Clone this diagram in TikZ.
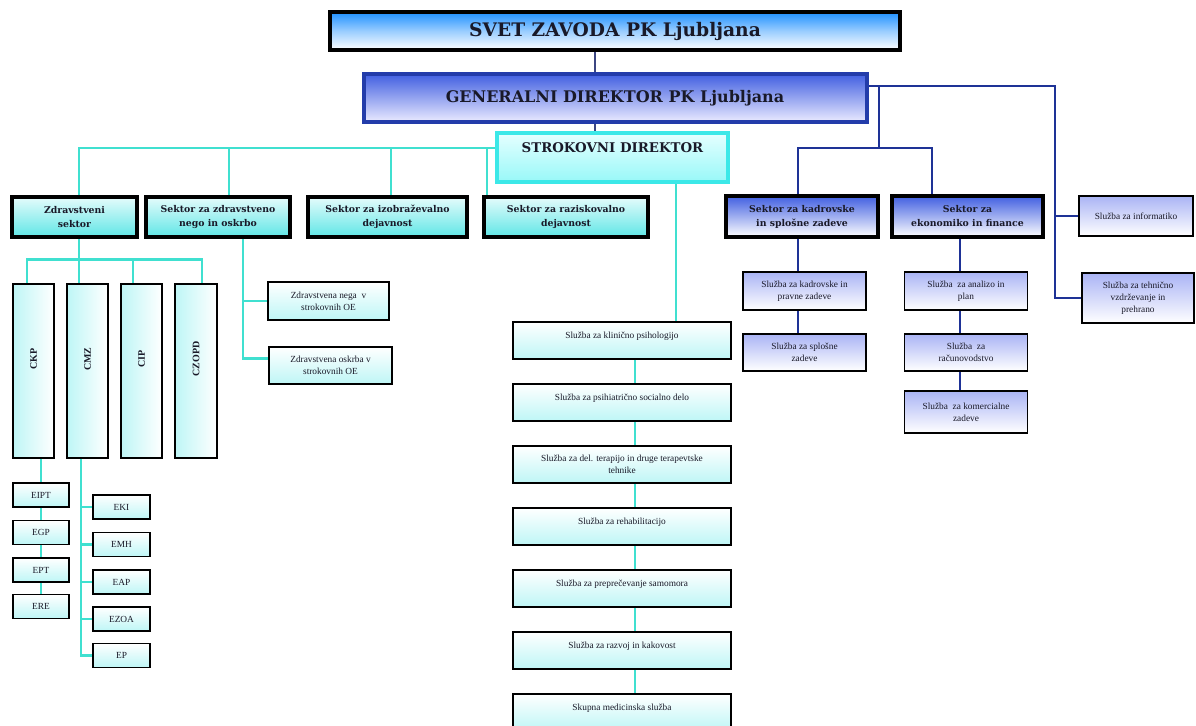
\documentclass[tikz,border=0pt]{standalone}
\usepackage{fontspec}
\setmainfont{Liberation Serif}
\newfontfamily\headfont{DejaVu Serif}
\usetikzlibrary{positioning,calc}

\definecolor{lineblue}{RGB}{30,50,150}
\definecolor{greyblue}{RGB}{60,70,130}
\definecolor{turq}{RGB}{64,224,208}
\definecolor{strcyan}{RGB}{60,232,232}
\definecolor{topblue}{RGB}{30,144,255}
\definecolor{royal}{RGB}{65,95,225}
\definecolor{genborder}{RGB}{35,60,170}
\definecolor{lav}{RGB}{170,180,245}
\definecolor{lcyan}{RGB}{190,246,246}
\definecolor{mcyan}{RGB}{95,230,230}
\definecolor{txt}{RGB}{25,25,40}

\tikzset{
  boxsize/.style 2 args={minimum width=#1*0.75pt, minimum height=#2*0.75pt},
  box/.style={draw=black, line width=1.3pt, text=txt, align=center, inner sep=0pt,
    font=\fontsize{7}{9}\selectfont},
  cyanbox/.style={box, top color=white, bottom color=lcyan},
  lavbox/.style={box, top color=lav, bottom color=white},
  tallbox/.style={box, left color=lcyan, right color=white},
  midbox/.style={cyanbox, text height=12pt, text depth=15.75pt},
  secbox/.style={box, line width=3.6pt, font=\headfont\bfseries\fontsize{7}{10.5}\selectfont},
  cyansec/.style={secbox, top color=lcyan!40, bottom color=mcyan},
  bluesec/.style={secbox, top color=royal, bottom color=white},
  cyanline/.style={draw=turq, line width=2.1pt},
  blueline/.style={draw=lineblue, line width=2.2pt},
  thinblue/.style={draw=greyblue, line width=1.4pt}
}

\begin{document}
\begin{tikzpicture}[x=0.75pt, y=-0.75pt]
\useasboundingbox (0,0) rectangle (1196,725);
\clip (0,0) rectangle (1196,725);
\fill[white] (0,0) rectangle (1196,725);

% top of the chart
\node[box, line width=3pt, top color=topblue, bottom color=white, middle color=topblue!45!white, boxsize={570}{38},
  font=\headfont\bfseries\fontsize{14}{16}\selectfont] (svet) at (615,31) {SVET ZAVODA PK Ljubljana};
\node[box, draw=genborder, line width=3pt, top color=royal, bottom color=white!92!blue, boxsize={503}{48},
  font=\headfont\bfseries\fontsize{12}{14}\selectfont] (gen) at (615,98) {GENERALNI DIREKTOR PK Ljubljana};
\node[box, draw=strcyan, line width=3.5pt, top color=white!90!cyan, bottom color=lcyan!80!cyan,
  minimum width=231*0.75pt, inner ysep=0pt, text height=14.9pt, text depth=21.85pt,
  font=\headfont\bfseries\fontsize{10}{12}\selectfont] (strok) at (612.5,157.5) {STROKOVNI DIREKTOR};

% sectors
\node[cyansec, boxsize={125}{40}] (zdrs) at (74.5,217) {Zdravstveni\\sektor};
\node[cyansec, boxsize={144}{40}] (sznego) at (218,217) {Sektor za zdravstveno\\nego in oskrbo};
\node[cyansec, boxsize={159}{40}] (sizob) at (387.5,217) {Sektor za izobraževalno\\dejavnost};
\node[cyansec, boxsize={164}{40}] (sraz) at (566,217) {Sektor za raziskovalno\\dejavnost};
\node[bluesec, boxsize={152}{41}] (skadr) at (802,216.5) {Sektor za kadrovske\\in splošne zadeve};
\node[bluesec, boxsize={151}{41}] (sekon) at (967.5,216.5) {Sektor za\\ekonomiko in finance};

% services on the right
\node[lavbox, boxsize={114}{40}] (sinf) at (1136,216) {Služba za informatiko};
\node[lavbox, boxsize={112}{50}] (steh) at (1138,298) {Služba za tehnično\\vzdrževanje in\\prehrano};
\node[lavbox, boxsize={123}{38}] (skp) at (804.5,291) {Služba za kadrovske in\\pravne zadeve};
\node[lavbox, boxsize={123}{37}] (ssp) at (804.5,352.5) {Služba za splošne\\zadeve};
\node[lavbox, boxsize={123}{38}] (san) at (966,291) {Služba\ \ za analizo in\\plan};
\node[lavbox, boxsize={123}{37}] (srac) at (966,352.5) {Služba\ \ za\\računovodstvo};
\node[lavbox, boxsize={123}{42}] (skom) at (966,412) {Služba\ \ za komercialne\\zadeve};

% centres
\node[tallbox, boxsize={41}{174}] (ckp) at (33.5,371) {};
\node[tallbox, boxsize={41}{174}] (cmz) at (87.5,371) {};
\node[tallbox, boxsize={41}{174}] (cip) at (141.5,371) {};
\node[tallbox, boxsize={42}{174}] (czopd) at (196,371) {};
\foreach \n/\t in {ckp/CKP, cmz/CMZ, cip/CIP, czopd/CZOPD}
  \node[rotate=90, text=txt, font=\bfseries\fontsize{7.5}{8}\selectfont] at ($(\n.center)+(0,-12)$) {\t};

% units
\node[cyanbox, boxsize={56}{24}] (eipt) at (41,495) {EIPT};
\node[cyanbox, boxsize={56}{24}] (egp) at (41,532.5) {EGP};
\node[cyanbox, boxsize={56}{24}] (ept) at (41,570) {EPT};
\node[cyanbox, boxsize={56}{24}] (ere) at (41,606.5) {ERE};
\node[cyanbox, boxsize={57}{24}] (eki) at (121.5,507) {EKI};
\node[cyanbox, boxsize={57}{24}] (emh) at (121.5,544.5) {EMH};
\node[cyanbox, boxsize={57}{24}] (eap) at (121.5,582) {EAP};
\node[cyanbox, boxsize={57}{24}] (ezoa) at (121.5,619) {EZOA};
\node[cyanbox, boxsize={57}{24}] (ep) at (121.5,655.5) {EP};

\node[cyanbox, boxsize={121}{38}] (zneg) at (328.5,301) {Zdravstvena nega\ \ v\\strokovnih OE};
\node[cyanbox, boxsize={123}{37}] (zosk) at (330.5,365.5) {Zdravstvena oskrba v\\strokovnih OE};

% middle column
\node[midbox, boxsize={218}{37}] (kl) at (622,340.5) {Služba za klinično psihologijo};
\node[midbox, boxsize={218}{37}] (ps) at (622,402.5) {Služba za psihiatrično socialno delo};
\node[cyanbox, boxsize={218}{37}] (dt) at (622,464.5) {Služba za del. terapijo in druge terapevtske\\tehnike};
\node[midbox, boxsize={218}{37}] (reh) at (622,526.5) {Služba za rehabilitacijo};
\node[midbox, boxsize={218}{37}] (pre) at (622,588.5) {Služba za preprečevanje samomora};
\node[midbox, boxsize={218}{37}] (raz) at (622,650.5) {Služba za razvoj in kakovost};
\node[midbox, boxsize={218}{37}] (skup) at (622,712.5) {Skupna medicinska služba};

% connectors, blue part
\draw[thinblue] ($(svet.south)+(-20,0)$) -- ($(gen.north)+(-20,0)$);
\draw[thinblue] ($(gen.south)+(-20,0)$) -- ($(strok.north)+(-17.5,0)$);

\coordinate (rbus) at (1055,86);
\coordinate (kbus) at (879,148);
\draw[blueline] ($(gen.east)+(0,-12)$) -- (rbus) |- (steh.west);
\draw[blueline] (rbus |- sinf.west) -- (sinf.west);
\draw[blueline] (kbus |- rbus) -- (kbus);
\draw[blueline] ($(skadr.north)+(-4,0)$) |- (kbus) -| ($(sekon.north)+(-35.5,0)$);
\draw[blueline] ($(skadr.south)+(-4,0)$) -- ($(skp.north)+(-6.5,0)$);
\draw[blueline] ($(skp.south)+(-6.5,0)$) -- ($(ssp.north)+(-6.5,0)$);
\draw[blueline] ($(sekon.south)+(-7.5,0)$) -- ($(san.north)+(-6,0)$);
\foreach \a/\b in {san/srac, srac/skom}
  \draw[blueline] ($(\a.south)+(-6,0)$) -- ($(\b.north)+(-6,0)$);

% connectors, cyan part
\coordinate (sbus) at ($(strok.west)+(0,-9.5)$);
\draw[cyanline] (sbus) -| ($(zdrs.north)+(4.5,0)$);
\foreach \n/\dx in {sznego/11, sizob/3.5, sraz/-79}
  \draw[cyanline] ($(\n.north)+(\dx,0)$) |- (sbus);
\draw[cyanline] ($(strok.south)+(63.5,0)$) -- ($(kl.north)+(54,0)$);
\foreach \a/\b in {kl/ps, ps/dt, dt/reh, reh/pre, pre/raz, raz/skup}
  \draw[cyanline] ($(\a.south)+(13,0)$) -- ($(\b.north)+(13,0)$);

\draw[cyanline] ($(zdrs.south)+(4.5,0)$) -- ($(cmz.north)+(-8.5,0)$);
\draw[cyanline] ($(ckp.north)+(-6.5,0)$) |- ($(czopd.north)+(6,-24)$) -- ($(czopd.north)+(6,0)$);
\draw[cyanline] ($(cip.north)+(-8.5,0)$) -- ++(0,-24);

\coordinate (snb) at ($(sznego.south)+(25,0)$);
\draw[cyanline] (snb) |- ($(zosk.west)+(0,-7)$);
\draw[cyanline] (snb |- zneg.west) -- (zneg.west);

\draw[cyanline] (eipt.north |- ckp.south) -- (eipt.north);
\foreach \a/\b in {eipt/egp, egp/ept, ept/ere}
  \draw[cyanline] (\a) -- (\b);
\coordinate (cmzb) at ($(cmz.south)+(-6.5,0)$);
\draw[cyanline] (cmzb) |- (ep.west);
\foreach \n in {eki, emh, eap, ezoa}
  \draw[cyanline] (cmzb |- \n.west) -- (\n.west);
\end{tikzpicture}
\end{document}
